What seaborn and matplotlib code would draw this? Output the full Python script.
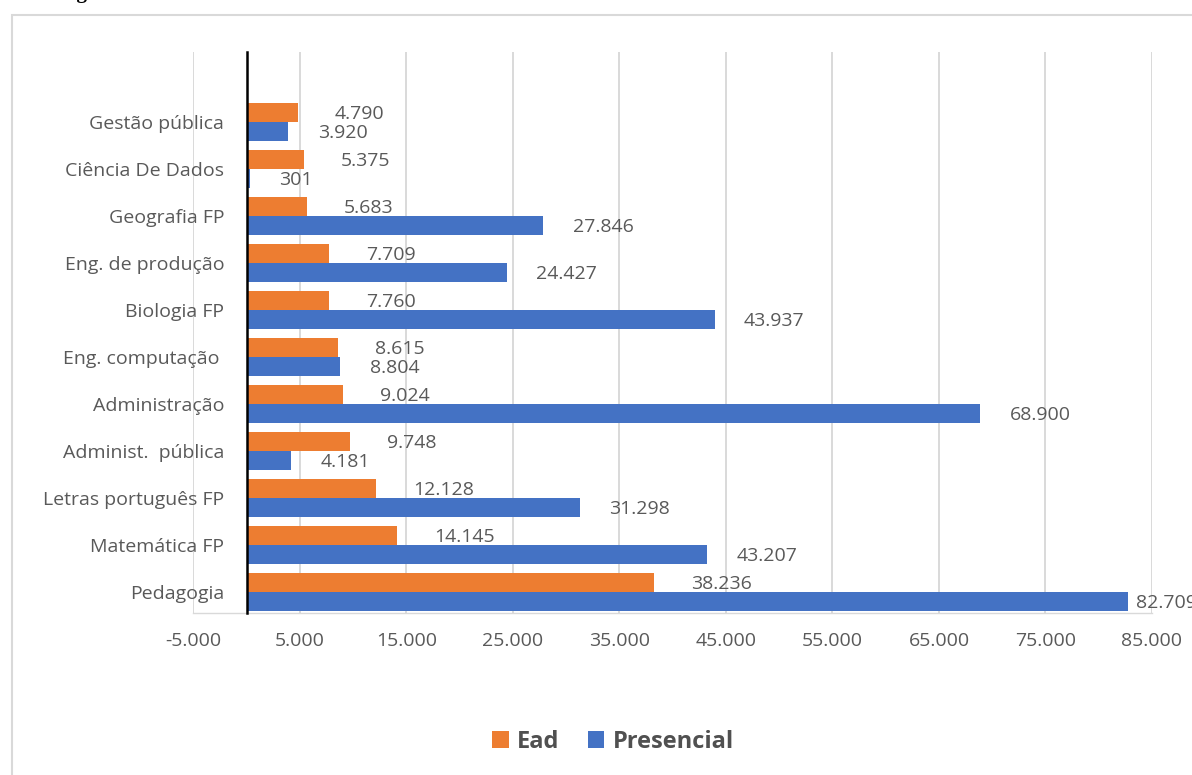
import numpy as np
import pandas as pd
import matplotlib
matplotlib.use("Agg")
import matplotlib.pyplot as plt
from matplotlib.patches import Rectangle
from matplotlib.ticker import FuncFormatter
import seaborn as sns

# Cursos (de cima para baixo) e número de matrículas por modalidade
cursos = [
    "Gestão pública",
    "Ciência De Dados",
    "Geografia FP",
    "Eng. de produção",
    "Biologia FP",
    "Eng. computação ",
    "Administração",
    "Administ.  pública",
    "Letras português FP",
    "Matemática FP",
    "Pedagogia",
]
ead = [4790, 5375, 5683, 7709, 7760, 8615, 9024, 9748, 12128, 14145, 38236]
presencial = [3920, 301, 27846, 24427, 43937, 8804, 68900, 4181, 31298, 43207, 82709]
modalidades = ["Ead", "Presencial"]
x_ticks = [-5000, 5000, 15000, 25000, 35000, 45000, 55000, 65000, 75000, 85000]

COR_EAD = "#ED7D31"
COR_PRES = "#4472C4"
CINZA_TXT = "#595959"
CINZA_GRADE = "#D9D9D9"

df = pd.DataFrame({
    "curso": cursos * 2,
    "valor": ead + presencial,
    "modalidade": [modalidades[0]] * len(cursos) + [modalidades[1]] * len(cursos),
})

sns.set_style("white")
plt.rcParams["font.family"] = ["Open Sans", "DejaVu Sans"]

W, H = 1192, 775
fig = plt.figure(figsize=(W / 100, H / 100), dpi=100)
fig.patch.set_facecolor("white")

# moldura da área do gráfico
fig.add_artist(Rectangle((12 / W, -0.05), 1.2, 1 - 15 / H + 0.05,
                         transform=fig.transFigure, fill=False,
                         edgecolor=CINZA_GRADE, linewidth=1.5))

# legenda da figura, parcialmente cortada no topo
fig.text(59 / W, 1 + 2 / H, "Figura", family="Liberation Serif",
         fontweight="bold", fontsize=15, color="black", va="baseline", ha="left")

ax = fig.add_axes([193.3 / W, 1 - 613 / H, (1152 - 193.3) / W, (613 - 52) / H])

sns.barplot(data=df, y="curso", x="valor", hue="modalidade", order=cursos,
            hue_order=modalidades, palette=[COR_EAD, COR_PRES], orient="h",
            width=0.8, gap=0, edgecolor="none", saturation=1, ax=ax, zorder=3)

ax.set_xlim(-5000, 85000)
ax.set_ylim(10.44, -1.49)
ax.set_xticks(x_ticks)
ax.xaxis.set_major_formatter(FuncFormatter(lambda v, p: f"{int(v):,}".replace(",", ".")))
ax.set_xlabel("")
ax.set_ylabel("")

ax.grid(axis="x", color=CINZA_GRADE, linewidth=1.4, zorder=0)
ax.grid(axis="y", visible=False)
ax.set_axisbelow(True)

for s in ["top", "right"]:
    ax.spines[s].set_visible(False)
ax.spines["left"].set_position(("data", 0))
ax.spines["left"].set_color("black")
ax.spines["left"].set_linewidth(1.8)
ax.spines["left"].set_zorder(4)
ax.spines["bottom"].set_color(CINZA_GRADE)
ax.spines["bottom"].set_linewidth(1.0)

ax.tick_params(axis="y", length=0, pad=16, labelsize=14, labelcolor=CINZA_TXT)
ax.tick_params(axis="x", length=4, width=1.2, color=CINZA_GRADE, pad=10,
               labelsize=14, labelcolor=CINZA_TXT)

# rótulos de valor
fig.canvas.draw()
offsets_px = {0: 37, 1: 29.5}
limite_px = W - 56
for i, cont in enumerate(ax.containers):
    for bar in cont:
        v = bar.get_width()
        yc = bar.get_y() + bar.get_height() / 2
        xd, yd = ax.transData.transform((v, yc))
        xd = min(xd + offsets_px[i], limite_px)
        xv, _ = ax.transData.inverted().transform((xd, yd))
        ax.text(xv, yc + 0.03, f"{int(round(v)):,}".replace(",", "."), ha="left",
                va="center", fontsize=14, color=CINZA_TXT, clip_on=False, zorder=5)

leg = ax.get_legend()
handles = leg.legend_handles
leg.remove()
fig.legend(handles, modalidades, loc="center", bbox_to_anchor=(613 / W, 1 - 742 / H),
           ncol=2, frameon=False, handlelength=0.7, handleheight=0.7,
           handletextpad=0.35, columnspacing=1.2,
           prop={"weight": "bold", "size": 17}, labelcolor="#505050")

fig.savefig("out.png", dpi=100)
